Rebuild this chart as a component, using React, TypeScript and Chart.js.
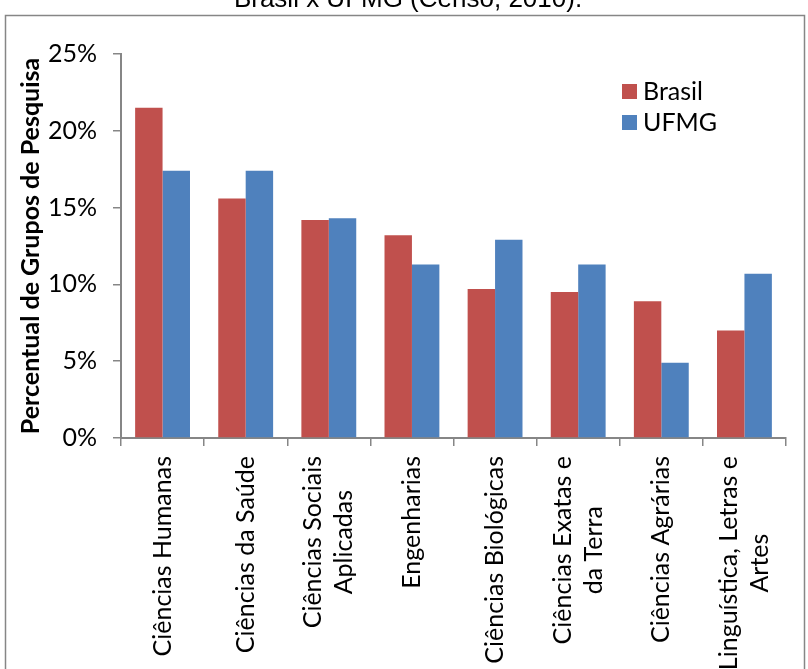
import React, { useEffect, useRef } from "react";
import { Chart, registerables } from "chart.js";

Chart.register(...registerables);

const chartTitle = "Brasil x UFMG (Censo, 2010).";
const yAxisTitle = "Percentual de Grupos de Pesquisa";
const categories: string[][] = [
  ["Ciências Humanas"],
  ["Ciências da Saúde"],
  ["Ciências Sociais", "Aplicadas"],
  ["Engenharias"],
  ["Ciências Biológicas"],
  ["Ciências Exatas e", "da Terra"],
  ["Ciências Agrárias"],
  ["Linguística, Letras e", "Artes"],
];
const seriesNames = ["Brasil", "UFMG"];
const brasil = [21.5, 15.6, 14.2, 13.2, 9.7, 9.5, 8.9, 7.0];
const ufmg = [17.4, 17.4, 14.3, 11.3, 12.9, 11.3, 4.9, 10.7];
const yTicks = [0, 5, 10, 15, 20, 25];
const colors = ["#C0504D", "#4F81BD"];

const FONT = "Lato, 'Noto Sans', sans-serif";
const AXIS = "#868686";

const decor = {
  id: "decor",
  afterDraw(chart: any) {
    const ctx = chart.ctx as CanvasRenderingContext2D;
    const area = chart.chartArea;
    ctx.save();
    // outer frame
    ctx.strokeStyle = AXIS;
    ctx.lineWidth = 1.5;
    ctx.strokeRect(5.5, 15.5, 799, 670);
    // title (cut at top)
    ctx.fillStyle = "#000";
    ctx.font = "26px 'Liberation Sans', Arial, sans-serif";
    ctx.textAlign = "center";
    ctx.textBaseline = "alphabetic";
    ctx.fillText(chartTitle, 408, 7);

    // category labels, rotated, lines centred
    const xs = chart.scales.x;
    ctx.font = `25px ${FONT}`;
    const lineH = 31;
    const topY = area.bottom + 18;
    categories.forEach((lines, i) => {
      const cx = xs.getPixelForValue(i);
      const maxW = Math.max(...lines.map((l) => ctx.measureText(l).width));
      const n = lines.length;
      lines.forEach((line, j) => {
        const lx = cx + (j - (n - 1) / 2) * lineH;
        ctx.save();
        ctx.translate(lx, topY + maxW / 2);
        ctx.rotate(-Math.PI / 2);
        ctx.textAlign = "center";
        ctx.textBaseline = "middle";
        ctx.fillStyle = "#000";
        ctx.fillText(line, 0, 0);
        ctx.restore();
      });
    });

    // legend
    const lx = area.right - 164;
    const ly = area.top + 30;
    chart.data.datasets.forEach((ds: any, i: number) => {
      const y = ly + i * 31;
      ctx.fillStyle = ds.backgroundColor;
      ctx.fillRect(lx, y, 15, 15);
      ctx.fillStyle = "#000";
      ctx.textAlign = "left";
      ctx.textBaseline = "middle";
      ctx.font = `25px ${FONT}`;
      ctx.fillText(ds.label, lx + 21, y + 8);
    });
    ctx.restore();
  },
};

export default function App() {
  const ref = useRef<HTMLCanvasElement>(null);
  useEffect(() => {
    if (!ref.current) return;
    const chart = new Chart(ref.current, {
      type: "bar",
      data: {
        labels: categories.map((c) => c.join(" ")),
        datasets: [
          { label: seriesNames[0], data: brasil, backgroundColor: colors[0] },
          { label: seriesNames[1], data: ufmg, backgroundColor: colors[1] },
        ],
      },
      options: {
        responsive: false,
        animation: false,
        events: [],
        layout: { padding: { left: 0, right: 22, top: 54, bottom: 223 } },
        datasets: { bar: { categoryPercentage: 0.66, barPercentage: 1.0 } },
        plugins: { legend: { display: false }, title: { display: false }, tooltip: { enabled: false } },
        scales: {
          x: {
            ticks: { display: false },
            grid: { display: true, offset: true, drawOnChartArea: false, drawTicks: true, tickLength: 8, color: AXIS, lineWidth: 1.5 },
            border: { display: true, color: AXIS, width: 2 },
            afterFit: (s: any) => { s.height = 8; },
          },
          y: {
            min: 0,
            max: 25,
            afterBuildTicks: (s: any) => { s.ticks = yTicks.map((v) => ({ value: v })); },
            ticks: {
              color: "#000",
              font: { family: FONT, size: 25 },
              padding: 16,
              callback: (v: any) => `${v}%`,
            },
            grid: { display: true, drawOnChartArea: false, drawTicks: true, tickLength: 8, color: AXIS, lineWidth: 1.5 },
            border: { display: true, color: AXIS, width: 2 },
            title: {
              display: true,
              text: yAxisTitle,
              color: "#000",
              font: { family: FONT, size: 25, weight: "bold", lineHeight: 1 },
              padding: { top: 18, bottom: 0 },
            },
            afterFit: (s: any) => { s.width = 121; },
          },
        },
      },
      plugins: [decor],
    });
    return () => chart.destroy();
  }, []);
  return (
    <div style={{ position: "absolute", left: 0, top: 0, width: 808, height: 669, background: "#fff" }}>
      <canvas ref={ref} width={808} height={669} style={{ display: "block" }} />
    </div>
  );
}
